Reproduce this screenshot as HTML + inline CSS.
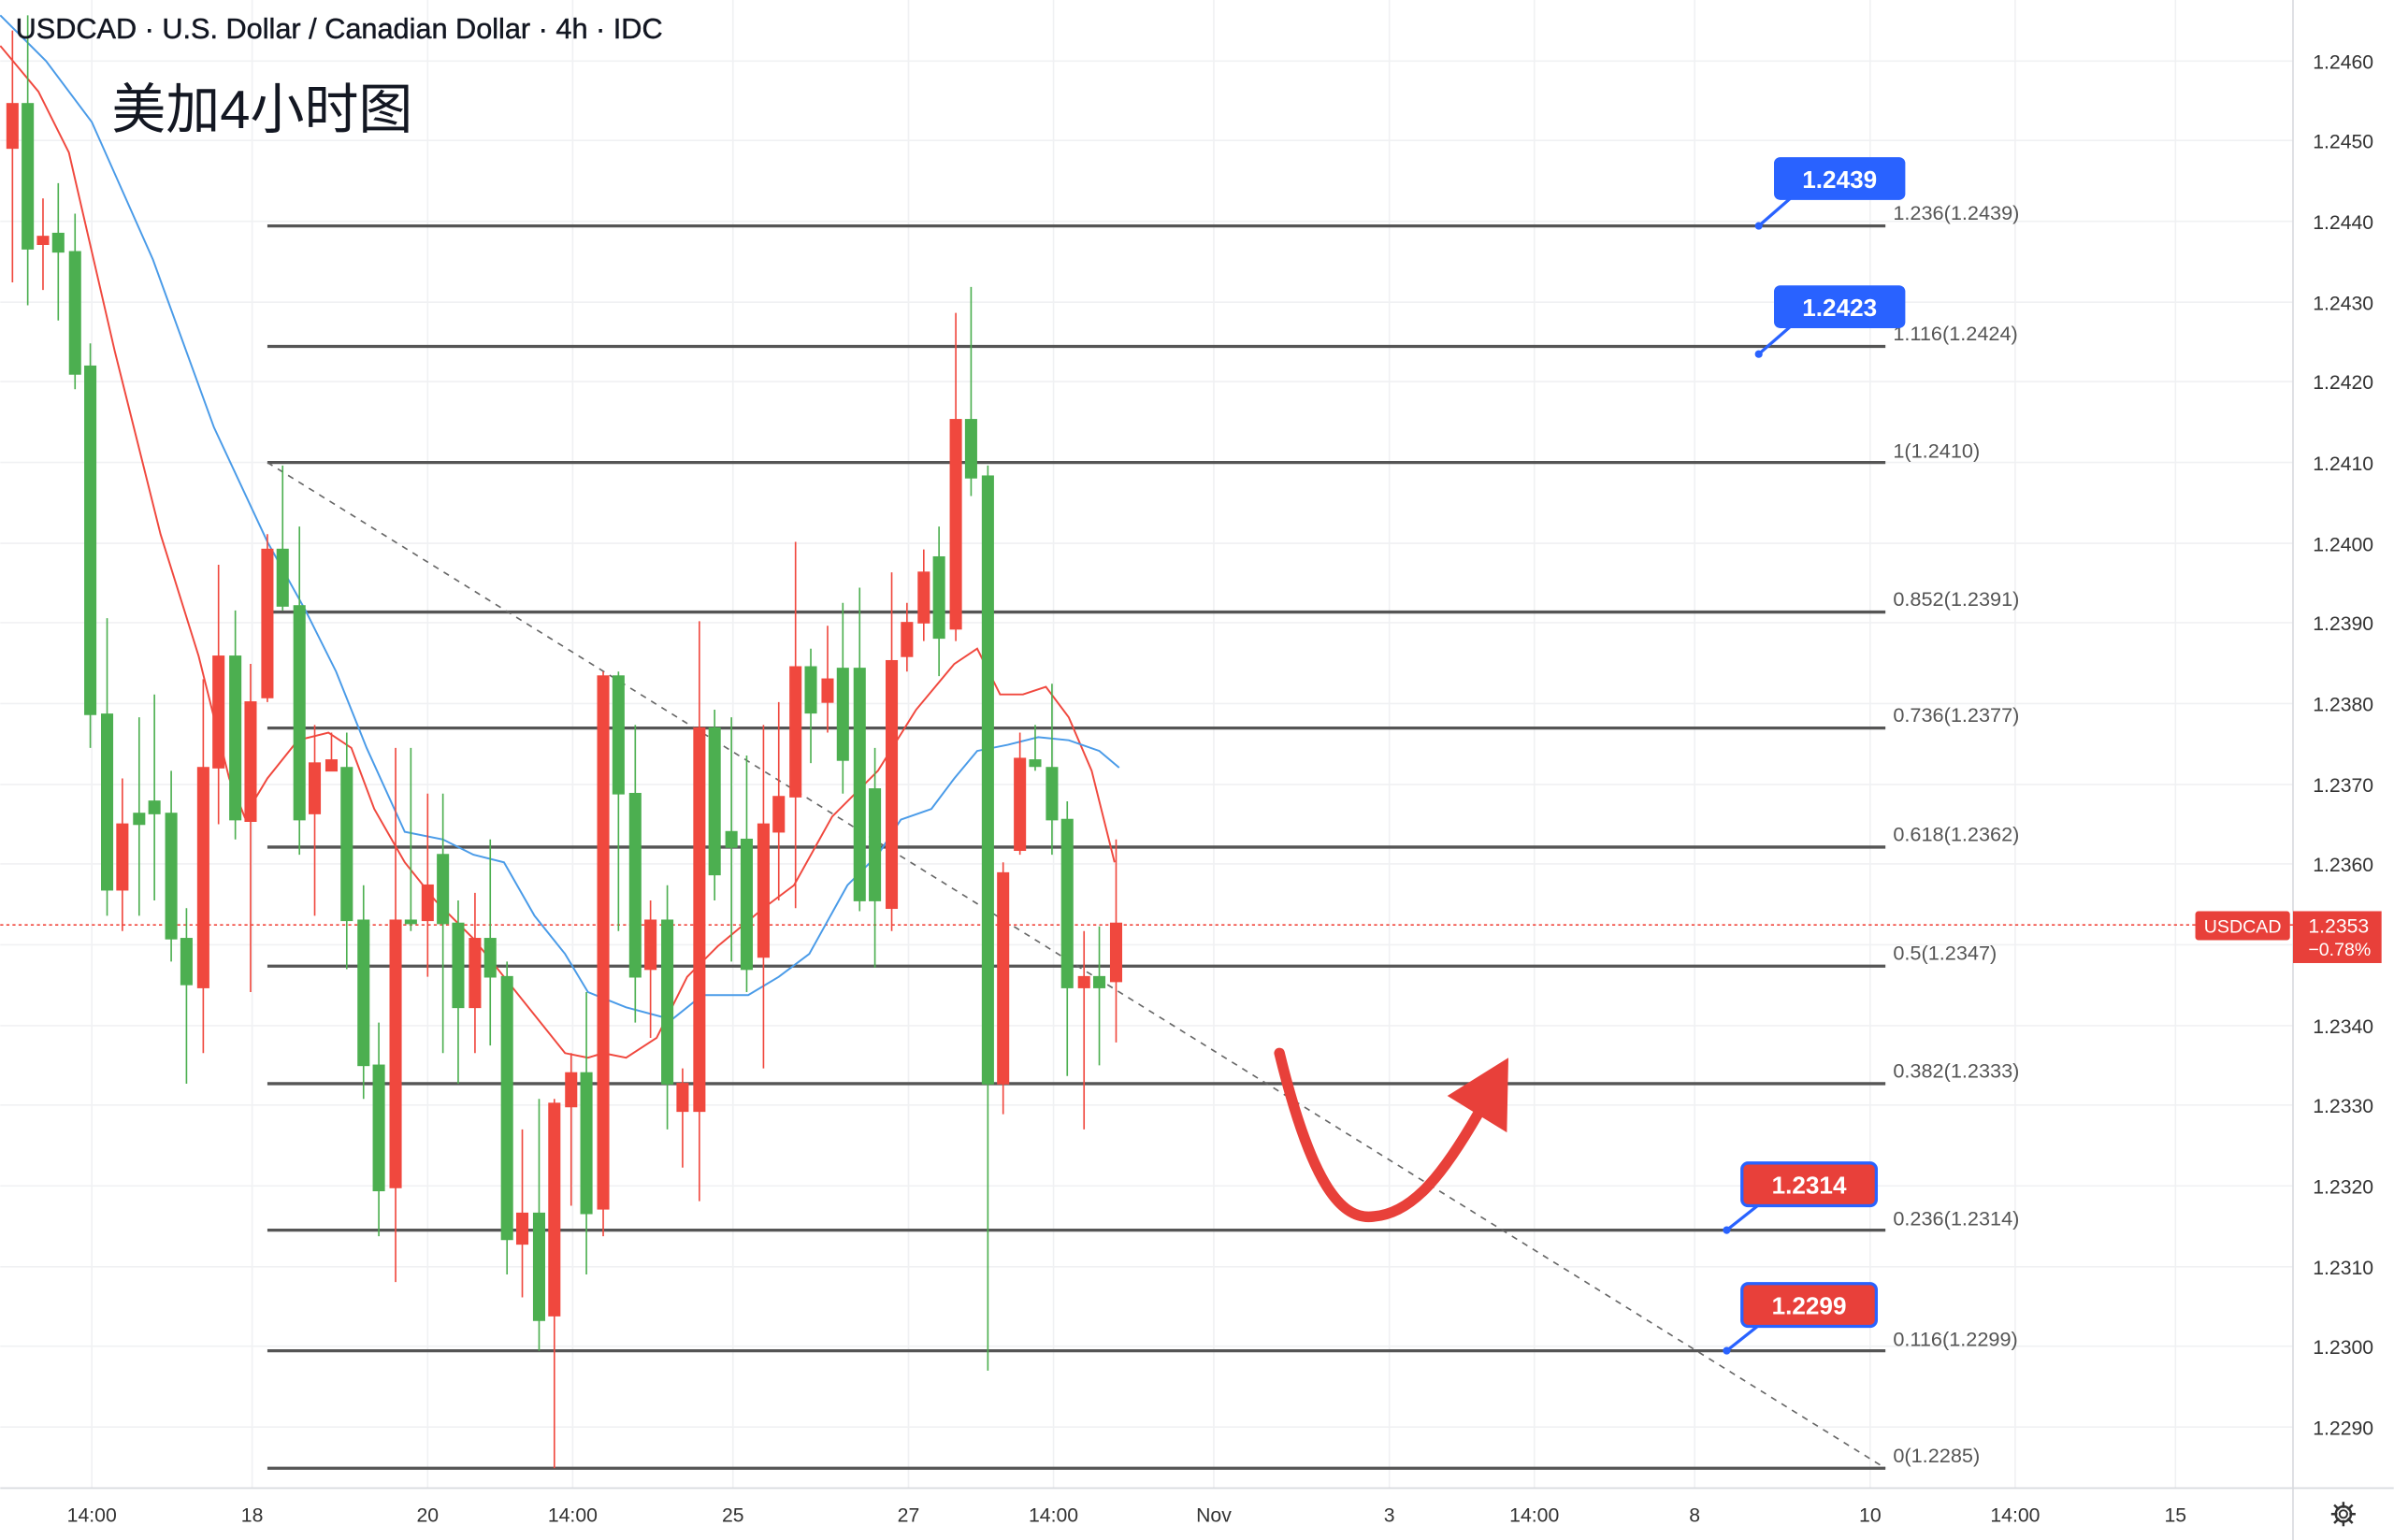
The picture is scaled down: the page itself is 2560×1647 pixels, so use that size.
<!DOCTYPE html>
<html><head><meta charset="utf-8"><style>
html,body{margin:0;padding:0;background:#fff;}
svg{display:block;}
text{font-family:"Liberation Sans","Noto Sans CJK SC",sans-serif;}
</style></head><body>
<svg width="2560" height="1647" viewBox="0 0 1568 1009" xmlns="http://www.w3.org/2000/svg">
<rect width="1568" height="1009" fill="#fff"/>
<g stroke="#f0f1f3" stroke-width="1">
<line x1="0" y1="40" x2="1502" y2="40"/><line x1="0" y1="92" x2="1502" y2="92"/><line x1="0" y1="145" x2="1502" y2="145"/><line x1="0" y1="198" x2="1502" y2="198"/><line x1="0" y1="250" x2="1502" y2="250"/><line x1="0" y1="303" x2="1502" y2="303"/><line x1="0" y1="356" x2="1502" y2="356"/><line x1="0" y1="408" x2="1502" y2="408"/><line x1="0" y1="461" x2="1502" y2="461"/><line x1="0" y1="514" x2="1502" y2="514"/><line x1="0" y1="566" x2="1502" y2="566"/><line x1="0" y1="619" x2="1502" y2="619"/><line x1="0" y1="672" x2="1502" y2="672"/><line x1="0" y1="724" x2="1502" y2="724"/><line x1="0" y1="777" x2="1502" y2="777"/><line x1="0" y1="830" x2="1502" y2="830"/><line x1="0" y1="882" x2="1502" y2="882"/><line x1="0" y1="935" x2="1502" y2="935"/>
<line x1="60" y1="0" x2="60" y2="975"/><line x1="165" y1="0" x2="165" y2="975"/><line x1="280" y1="0" x2="280" y2="975"/><line x1="375" y1="0" x2="375" y2="975"/><line x1="480" y1="0" x2="480" y2="975"/><line x1="595" y1="0" x2="595" y2="975"/><line x1="690" y1="0" x2="690" y2="975"/><line x1="795" y1="0" x2="795" y2="975"/><line x1="910" y1="0" x2="910" y2="975"/><line x1="1005" y1="0" x2="1005" y2="975"/><line x1="1110" y1="0" x2="1110" y2="975"/><line x1="1225" y1="0" x2="1225" y2="975"/><line x1="1320" y1="0" x2="1320" y2="975"/><line x1="1425" y1="0" x2="1425" y2="975"/>
</g>
<line x1="1502" y1="0" x2="1502" y2="1009" stroke="#d8dadf"/>
<line x1="0" y1="975" x2="1568" y2="975" stroke="#d8dadf"/>
<g stroke="#555" stroke-width="2">
<line x1="175" y1="148" x2="1235" y2="148"/><line x1="175" y1="227" x2="1235" y2="227"/><line x1="175" y1="303" x2="1235" y2="303"/><line x1="175" y1="401" x2="1235" y2="401"/><line x1="175" y1="477" x2="1235" y2="477"/><line x1="175" y1="555" x2="1235" y2="555"/><line x1="175" y1="633" x2="1235" y2="633"/><line x1="175" y1="710" x2="1235" y2="710"/><line x1="175" y1="806" x2="1235" y2="806"/><line x1="175" y1="885" x2="1235" y2="885"/><line x1="175" y1="962" x2="1235" y2="962"/>
</g>
<g font-size="13.3" fill="#555">
<text x="1240" y="144">1.236(1.2439)</text><text x="1240" y="223">1.116(1.2424)</text><text x="1240" y="300">1(1.2410)</text><text x="1240" y="397">0.852(1.2391)</text><text x="1240" y="473">0.736(1.2377)</text><text x="1240" y="551">0.618(1.2362)</text><text x="1240" y="629">0.5(1.2347)</text><text x="1240" y="706">0.382(1.2333)</text><text x="1240" y="803">0.236(1.2314)</text><text x="1240" y="882">0.116(1.2299)</text><text x="1240" y="958">0(1.2285)</text>
</g>
<line x1="175" y1="303" x2="1235" y2="962" stroke="#666" stroke-width="1" stroke-dasharray="4,4"/>
<line x1="0" y1="606" x2="1502" y2="606" stroke="#f0483e" stroke-width="1" stroke-dasharray="2,2"/>
<polyline fill="none" stroke="#f0483e" stroke-width="1.2" points="0,30 25,60 45,100 75,230 105,350 130,430 150,510 160,535 175,510 195,485 215,480 230,490 245,530 265,565 285,590 310,615 330,640 350,665 370,690 385,693 395,690 410,693 430,680 450,640 470,620 500,595 520,580 545,535 575,505 600,465 625,435 640,425 655,455 670,455 685,450 700,470 715,505 730,565"/>
<polyline fill="none" stroke="#4a9be8" stroke-width="1.2" points="0,10 30,40 60,80 100,170 140,280 175,355 200,400 220,440 240,490 265,545 290,550 310,560 330,565 350,600 370,625 385,650 410,660 440,668 460,652 490,652 510,640 530,625 555,580 575,560 590,537 610,530 625,510 640,492 660,488 680,483 700,485 720,492 733,503"/>
<g stroke-width="1">
<g stroke="#f0483e" fill="#f0483e">
<line x1="8" y1="20" x2="8" y2="185"/><rect x="4.5" y="68" width="7" height="29"/>
<line x1="28" y1="130" x2="28" y2="190"/><rect x="24.5" y="155" width="7" height="5"/>
<line x1="80" y1="510" x2="80" y2="610"/><rect x="76.5" y="540" width="7" height="43"/>
<line x1="133" y1="445" x2="133" y2="690"/><rect x="129.5" y="503" width="7" height="144"/>
<line x1="143" y1="370" x2="143" y2="540"/><rect x="139.5" y="430" width="7" height="73"/>
<line x1="164" y1="435" x2="164" y2="650"/><rect x="160.5" y="460" width="7" height="78"/>
<line x1="175" y1="350" x2="175" y2="460"/><rect x="171.5" y="360" width="7" height="97"/>
<line x1="206" y1="475" x2="206" y2="600"/><rect x="202.5" y="500" width="7" height="33"/>
<line x1="217" y1="480" x2="217" y2="505"/><rect x="213.5" y="498" width="7" height="7"/>
<line x1="259" y1="490" x2="259" y2="840"/><rect x="255.5" y="603" width="7" height="175"/>
<line x1="280" y1="520" x2="280" y2="640"/><rect x="276.5" y="580" width="7" height="23"/>
<line x1="311" y1="585" x2="311" y2="690"/><rect x="307.5" y="615" width="7" height="45"/>
<line x1="342" y1="740" x2="342" y2="850"/><rect x="338.5" y="795" width="7" height="20"/>
<line x1="363" y1="720" x2="363" y2="962"/><rect x="359.5" y="723" width="7" height="139"/>
<line x1="374" y1="690" x2="374" y2="790"/><rect x="370.5" y="703" width="7" height="22"/>
<line x1="395" y1="440" x2="395" y2="810"/><rect x="391.5" y="443" width="7" height="349"/>
<line x1="426" y1="590" x2="426" y2="680"/><rect x="422.5" y="603" width="7" height="32"/>
<line x1="447" y1="700" x2="447" y2="765"/><rect x="443.5" y="710" width="7" height="18"/>
<line x1="458" y1="407" x2="458" y2="787"/><rect x="454.5" y="477" width="7" height="251"/>
<line x1="500" y1="475" x2="500" y2="700"/><rect x="496.5" y="540" width="7" height="87"/>
<line x1="510" y1="460" x2="510" y2="590"/><rect x="506.5" y="522" width="7" height="23"/>
<line x1="521" y1="355" x2="521" y2="595"/><rect x="517.5" y="437" width="7" height="85"/>
<line x1="542" y1="410" x2="542" y2="480"/><rect x="538.5" y="445" width="7" height="15"/>
<line x1="584" y1="375" x2="584" y2="610"/><rect x="580.5" y="433" width="7" height="162"/>
<line x1="594" y1="395" x2="594" y2="440"/><rect x="590.5" y="408" width="7" height="22"/>
<line x1="605" y1="360" x2="605" y2="420"/><rect x="601.5" y="375" width="7" height="33"/>
<line x1="626" y1="205" x2="626" y2="420"/><rect x="622.5" y="275" width="7" height="137"/>
<line x1="657" y1="565" x2="657" y2="730"/><rect x="653.5" y="572" width="7" height="138"/>
<line x1="668" y1="480" x2="668" y2="560"/><rect x="664.5" y="497" width="7" height="60"/>
<line x1="710" y1="610" x2="710" y2="740"/><rect x="706.5" y="640" width="7" height="7"/>
<line x1="731" y1="550" x2="731" y2="683"/><rect x="727.5" y="605" width="7" height="38"/>
</g>
<g stroke="#4caf50" fill="#4caf50">
<line x1="18" y1="10" x2="18" y2="200"/><rect x="14.5" y="68" width="7" height="95"/>
<line x1="38" y1="120" x2="38" y2="210"/><rect x="34.5" y="153" width="7" height="12"/>
<line x1="49" y1="140" x2="49" y2="255"/><rect x="45.5" y="165" width="7" height="80"/>
<line x1="59" y1="225" x2="59" y2="490"/><rect x="55.5" y="240" width="7" height="228"/>
<line x1="70" y1="405" x2="70" y2="600"/><rect x="66.5" y="468" width="7" height="115"/>
<line x1="91" y1="470" x2="91" y2="600"/><rect x="87.5" y="533" width="7" height="7"/>
<line x1="101" y1="455" x2="101" y2="590"/><rect x="97.5" y="525" width="7" height="8"/>
<line x1="112" y1="505" x2="112" y2="630"/><rect x="108.5" y="533" width="7" height="82"/>
<line x1="122" y1="595" x2="122" y2="710"/><rect x="118.5" y="615" width="7" height="30"/>
<line x1="154" y1="400" x2="154" y2="550"/><rect x="150.5" y="430" width="7" height="107"/>
<line x1="185" y1="305" x2="185" y2="400"/><rect x="181.5" y="360" width="7" height="37"/>
<line x1="196" y1="345" x2="196" y2="560"/><rect x="192.5" y="397" width="7" height="140"/>
<line x1="227" y1="480" x2="227" y2="635"/><rect x="223.5" y="503" width="7" height="100"/>
<line x1="238" y1="580" x2="238" y2="720"/><rect x="234.5" y="603" width="7" height="95"/>
<line x1="248" y1="670" x2="248" y2="810"/><rect x="244.5" y="698" width="7" height="82"/>
<line x1="269" y1="490" x2="269" y2="610"/><rect x="265.5" y="603" width="7" height="2"/>
<line x1="290" y1="520" x2="290" y2="690"/><rect x="286.5" y="560" width="7" height="45"/>
<line x1="300" y1="590" x2="300" y2="710"/><rect x="296.5" y="605" width="7" height="55"/>
<line x1="321" y1="550" x2="321" y2="685"/><rect x="317.5" y="615" width="7" height="25"/>
<line x1="332" y1="630" x2="332" y2="835"/><rect x="328.5" y="640" width="7" height="172"/>
<line x1="353" y1="720" x2="353" y2="885"/><rect x="349.5" y="795" width="7" height="70"/>
<line x1="384" y1="650" x2="384" y2="835"/><rect x="380.5" y="703" width="7" height="92"/>
<line x1="405" y1="440" x2="405" y2="610"/><rect x="401.5" y="443" width="7" height="77"/>
<line x1="416" y1="475" x2="416" y2="670"/><rect x="412.5" y="520" width="7" height="120"/>
<line x1="437" y1="580" x2="437" y2="740"/><rect x="433.5" y="603" width="7" height="107"/>
<line x1="468" y1="465" x2="468" y2="590"/><rect x="464.5" y="477" width="7" height="96"/>
<line x1="479" y1="470" x2="479" y2="630"/><rect x="475.5" y="545" width="7" height="10"/>
<line x1="489" y1="495" x2="489" y2="650"/><rect x="485.5" y="550" width="7" height="85"/>
<line x1="531" y1="425" x2="531" y2="500"/><rect x="527.5" y="437" width="7" height="30"/>
<line x1="552" y1="395" x2="552" y2="520"/><rect x="548.5" y="438" width="7" height="60"/>
<line x1="563" y1="385" x2="563" y2="597"/><rect x="559.5" y="438" width="7" height="152"/>
<line x1="573" y1="490" x2="573" y2="634"/><rect x="569.5" y="517" width="7" height="73"/>
<line x1="615" y1="345" x2="615" y2="443"/><rect x="611.5" y="365" width="7" height="53"/>
<line x1="636" y1="188" x2="636" y2="325"/><rect x="632.5" y="275" width="7" height="38"/>
<line x1="647" y1="305" x2="647" y2="898"/><rect x="643.5" y="312" width="7" height="398"/>
<line x1="678" y1="475" x2="678" y2="505"/><rect x="674.5" y="498" width="7" height="4"/>
<line x1="689" y1="448" x2="689" y2="560"/><rect x="685.5" y="503" width="7" height="34"/>
<line x1="699" y1="525" x2="699" y2="705"/><rect x="695.5" y="537" width="7" height="110"/>
<line x1="720" y1="607" x2="720" y2="698"/><rect x="716.5" y="640" width="7" height="7"/>
</g>
</g>
<path d="M838,690 C860,780 880,800 900,797 C925,795 945,770 968,730" fill="none" stroke="#e8403a" stroke-width="7" stroke-linecap="round"/>
<polygon points="988,693 987,742 948,718" fill="#e8403a"/>
<g font-size="16" font-weight="bold" fill="#fff">
<line x1="1152" y1="148" x2="1175" y2="128" stroke="#2962ff" stroke-width="2"/><circle cx="1152" cy="148" r="2.5" fill="#2962ff"/>
<rect x="1162" y="103" width="86" height="28" rx="4" fill="#2962ff"/><text x="1205" y="123" text-anchor="middle">1.2439</text>
<line x1="1152" y1="232" x2="1175" y2="212" stroke="#2962ff" stroke-width="2"/><circle cx="1152" cy="232" r="2.5" fill="#2962ff"/>
<rect x="1162" y="187" width="86" height="28" rx="4" fill="#2962ff"/><text x="1205" y="207" text-anchor="middle">1.2423</text>
<line x1="1131" y1="806" x2="1155" y2="787" stroke="#2962ff" stroke-width="2"/><circle cx="1131" cy="806" r="2.5" fill="#2962ff"/>
<rect x="1141" y="762" width="88" height="28" rx="4" fill="#e8403a" stroke="#2962ff" stroke-width="2"/><text x="1185" y="782" text-anchor="middle">1.2314</text>
<line x1="1131" y1="885" x2="1155" y2="866" stroke="#2962ff" stroke-width="2"/><circle cx="1131" cy="885" r="2.5" fill="#2962ff"/>
<rect x="1141" y="841" width="88" height="28" rx="4" fill="#e8403a" stroke="#2962ff" stroke-width="2"/><text x="1185" y="861" text-anchor="middle">1.2299</text>
</g>
<g font-size="13" fill="#333">
<text x="1515" y="45">1.2460</text><text x="1515" y="97">1.2450</text><text x="1515" y="150">1.2440</text><text x="1515" y="203">1.2430</text><text x="1515" y="255">1.2420</text><text x="1515" y="308">1.2410</text><text x="1515" y="361">1.2400</text><text x="1515" y="413">1.2390</text><text x="1515" y="466">1.2380</text><text x="1515" y="519">1.2370</text><text x="1515" y="571">1.2360</text><text x="1515" y="677">1.2340</text><text x="1515" y="729">1.2330</text><text x="1515" y="782">1.2320</text><text x="1515" y="835">1.2310</text><text x="1515" y="887">1.2300</text><text x="1515" y="940">1.2290</text>
</g>
<rect x="1438" y="597" width="62" height="19" rx="2" fill="#e8403a"/>
<text x="1469" y="611" font-size="12" fill="#fff" text-anchor="middle">USDCAD</text>
<rect x="1502" y="597" width="58" height="34" fill="#e8403a"/>
<text x="1512" y="611" font-size="13" fill="#fff">1.2353</text>
<text x="1512" y="626" font-size="12" fill="#fff">−0.78%</text>
<g font-size="13" fill="#333" text-anchor="middle">
<text x="60" y="997">14:00</text><text x="165" y="997">18</text><text x="280" y="997">20</text><text x="375" y="997">14:00</text><text x="480" y="997">25</text><text x="595" y="997">27</text><text x="690" y="997">14:00</text><text x="795" y="997">Nov</text><text x="910" y="997">3</text><text x="1005" y="997">14:00</text><text x="1110" y="997">8</text><text x="1225" y="997">10</text><text x="1320" y="997">14:00</text><text x="1425" y="997">15</text>
</g>
<circle cx="1535" cy="992" r="5" fill="none" stroke="#333" stroke-width="1.5"/>
<g stroke="#333" stroke-width="1.5"><line x1="1535" y1="984" x2="1535" y2="1000"/><line x1="1527" y1="992" x2="1543" y2="992"/><line x1="1529" y1="986" x2="1541" y2="998"/><line x1="1541" y1="986" x2="1529" y2="998"/></g>
<circle cx="1535" cy="992" r="4" fill="#fff"/>
<circle cx="1535" cy="992" r="2.5" fill="none" stroke="#333" stroke-width="1.2"/>
<text x="10" y="25" font-size="18.8" fill="#131722" stroke="#131722" stroke-width="0.3">USDCAD · U.S. Dollar / Canadian Dollar · 4h · IDC</text>
<text x="73" y="84" font-size="35.5" fill="#131722">美加4小时图</text>
</svg>
</body></html>
